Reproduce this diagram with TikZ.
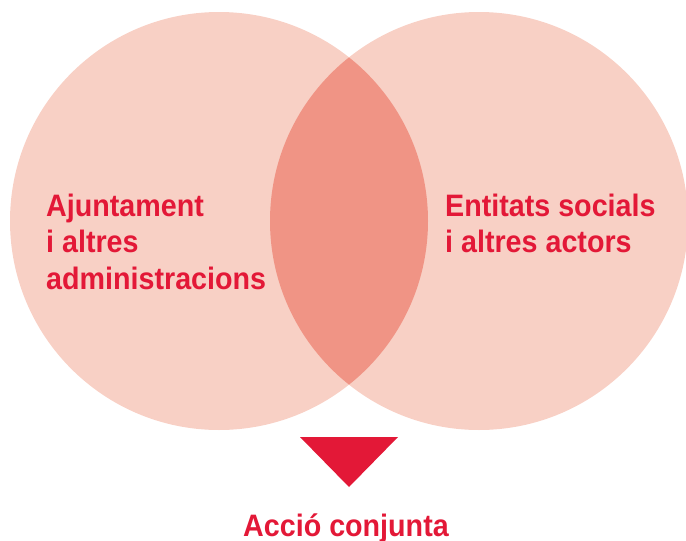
\documentclass[tikz,border=0pt]{standalone}
\usepackage{fontspec}
\setmainfont{Liberation Sans}[FakeStretch=0.925]
\definecolor{light}{RGB}{248,208,197}
\definecolor{mid}{RGB}{240,148,133}
\definecolor{redtxt}{RGB}{227,24,55}
\tikzset{
  lbl/.style={anchor=base west, inner sep=0pt, text=redtxt, font=\fontsize{31}{36}\selectfont\bfseries},
  circ/.style={fill=light, draw=none}
}
\begin{document}
\begin{tikzpicture}[x=1pt,y=-1pt]
\useasboundingbox (0,0) rectangle (686,541);
\fill[light] (219,221) circle (209);
\fill[light] (479,221) circle (209);
\begin{scope}
  \clip (219,221) circle (209);
  \fill[mid] (479,221) circle (209);
\end{scope}
\node[lbl] (l1) at (46,216) {Ajuntament};
\node[lbl] (l2) at (46,252) {i altres};
\node[lbl] (l3) at (46,289) {administracions};
\node[lbl] (r1) at (445,216) {Entitats socials};
\node[lbl] (r2) at (445,252) {i altres actors};
\fill[redtxt] (300,437) -- (398,437) -- (349,487) -- cycle;
\node[lbl, anchor=base] (acc) at (346,536) {Acció conjunta};
\end{tikzpicture}
\end{document}
